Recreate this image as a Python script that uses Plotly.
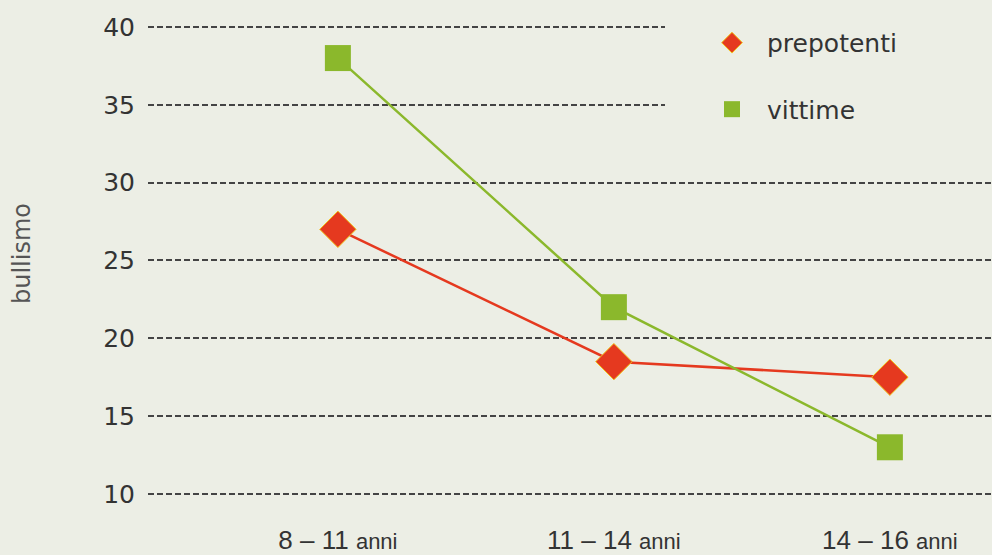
import plotly.graph_objects as go

categories = ["8 – 11", "11 – 14", "14 – 16"]
prepotenti = [27, 18.5, 17.5]
vittime = [38, 22, 13]
y_ticks = [10, 15, 20, 25, 30, 35, 40]

BG = "#eceee5"
RED = "#e5391f"
GREEN = "#8bb82c"

x_idx = list(range(len(categories)))
tick_text = [f"{c} <span style='font-size:22px'>anni</span>" for c in categories]

fig = go.Figure()
fig.add_trace(go.Scatter(x=x_idx, y=prepotenti, mode="lines+markers", name="prepotenti",
                         line=dict(color=RED, width=2.5),
                         marker=dict(symbol="diamond", size=28, color=RED,
                                     line=dict(color="#f2c21a", width=1)),
                         showlegend=False))
fig.add_trace(go.Scatter(x=x_idx, y=vittime, mode="lines+markers", name="vittime",
                         line=dict(color=GREEN, width=2.5),
                         marker=dict(symbol="square", size=26, color=GREEN),
                         showlegend=False))
# legend-only entries (markers only)
fig.add_trace(go.Scatter(x=[None], y=[None], mode="markers", name="prepotenti",
                         legendgroup="a",
                         marker=dict(symbol="diamond", size=30, color=RED,
                                     line=dict(color="#f2c21a", width=1))))
fig.add_trace(go.Scatter(x=[None], y=[None], mode="markers", name="vittime",
                         legendgroup="b",
                         marker=dict(symbol="square", size=30, color=GREEN)))

W_PLOT = 844
H_PLOT = 510

fig.update_layout(
    width=992, height=555,
    margin=dict(l=148, r=0, t=0, b=45),
    paper_bgcolor=BG, plot_bgcolor=BG,
    font=dict(family="DejaVu Sans", color="#333333"),
    legend=dict(x=(697 - 148) / W_PLOT, xanchor="left", y=1 - 20 / H_PLOT, yanchor="top",
                bgcolor=BG, font=dict(size=25, color="#333333"),
                traceorder="grouped", tracegroupgap=31,
                itemwidth=60),
    shapes=[dict(type="rect", xref="paper", yref="paper", layer="above",
                 x0=(665 - 148) / W_PLOT, x1=1, y0=1 - 140 / H_PLOT, y1=1,
                 fillcolor=BG, line=dict(width=0))],
    xaxis=dict(range=[-0.688, 2.37], tickmode="array", tickvals=x_idx, ticktext=tick_text,
               showgrid=False, zeroline=False, showline=False, ticks="", ticklabelstandoff=14,
               tickfont=dict(family="Liberation Sans Narrow, Liberation Sans", size=26, color="#333333")),
    yaxis=dict(range=[9.1, 41.73], tickmode="array", tickvals=y_ticks,
               showgrid=True, gridcolor="#444444", gridwidth=2, griddash="6px,3px",
               zeroline=False, showline=False, ticks="", ticklabelstandoff=12,
               tickfont=dict(family="DejaVu Sans", size=25, color="#333333")),
    annotations=[dict(text="bullismo", textangle=-90, xref="paper", yref="paper",
                      x=(22 - 148) / W_PLOT, xanchor="center", y=0.5, yanchor="middle",
                      showarrow=False, font=dict(size=24, color="#555555"))],
)

fig.write_html("out.html", config={"displayModeBar": False},
               post_script="document.body.style.margin='0';")
